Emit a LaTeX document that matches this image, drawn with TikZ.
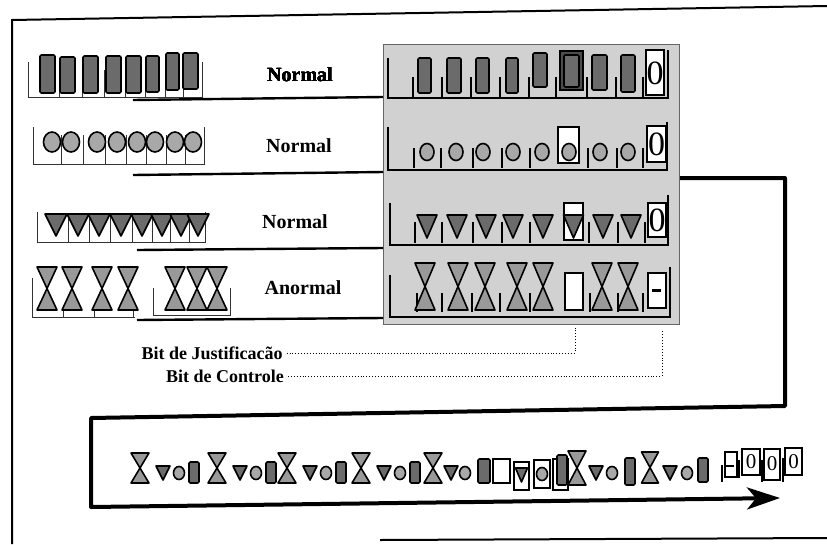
\documentclass[tikz,border=0pt]{standalone}
\usepackage{fontspec}
\setmainfont{Liberation Serif}
\usetikzlibrary{arrows.meta}
\definecolor{panelgray}{gray}{0.82}
\definecolor{rectfill}{gray}{0.42}
\definecolor{trifill}{gray}{0.42}
\definecolor{circfill}{gray}{0.66}
\definecolor{hgfill}{gray}{0.6}
\newcommand\symrect[4]{\draw[symb,fill=rectfill,rounded corners=1.2pt] ({#1},{#2}) rectangle ({#3},{#4});}
\newcommand\symtri[4]{\draw[symb,fill=trifill] ({#1-#3},{#2}) -- ({#1+#3},{#2}) -- ({#1},{#4}) -- cycle;}
\newcommand\symcirc[4]{\draw[symb,fill=circfill] ({#1},{#2}) ellipse [x radius=#3, y radius=#4];}
\newcommand\symhg[4]{%
  \draw[symb,fill=hgfill] ({#1-#3},{#2}) -- ({#1+#3},{#2}) -- ({#1},{(#2+#4)/2}) -- cycle;
  \draw[symb,fill=hgfill] ({#1-#3},{#4}) -- ({#1+#3},{#4}) -- ({#1},{(#2+#4)/2}) -- cycle;}
\newcommand\symgroup[1]{%
  \symhg{#1}{453}{9}{483}
  \symtri{#1+23}{466}{7}{480}
  \symcirc{#1+39}{473}{5.5}{6.5}
  \symrect{#1+49}{462}{#1+59}{483}}
\begin{document}
\begin{tikzpicture}[x=1pt,y=-1pt,
  symb/.style={draw=black,line width=1.6pt,line join=round},
  thinb/.style={draw=black!80,line width=0.6pt},
  pline/.style={line width=2.4pt,line join=miter},
  ptick/.style={line width=1.8pt},
  boxw/.style={draw=black,line width=1.8pt,fill=white},
  rowline/.style={line width=2.4pt},
  lab/.style={font=\bfseries\fontsize{20}{20}\selectfont,inner sep=0pt},
  blab/.style={font=\bfseries\fontsize{18}{18}\selectfont,inner sep=0pt},
  dots/.style={dotted,line width=0.9pt},
  big/.style={line width=4pt,line join=round},
  frame/.style={line width=2pt},
  zero/.style={font=\fontsize{34}{34}\selectfont,inner sep=0pt},
  zsmall/.style={font=\fontsize{21}{21}\selectfont,inner sep=0pt},
  panelbox/.style={fill=panelgray,draw=black!60,line width=0.7pt,minimum width=296pt,minimum height=280pt,inner sep=0pt}]
\useasboundingbox (0,0) rectangle (827,544);
% outer frame
\draw[frame] (827,6) -- (12,20) -- (12,544);
\draw[frame] (380,540) -- (827,538);
% panel
\node[panelbox] (panel) at (531,184) {};
% ---------- left rows ----------
% row 1: rectangles
\draw[thinb] (28,62) -- (28,97) -- (202,97) -- (202,62);
\foreach \x in {59,82,104,125,145,165,183} \draw[thinb] (\x,70) -- (\x,97);
\symrect{40}{55}{55}{93}
\symrect{60}{57}{75}{93}
\symrect{83}{56}{98}{93}
\symrect{106}{56}{121}{93}
\symrect{126}{56}{141}{93}
\symrect{146}{56}{159}{92}
\symrect{166}{53}{179}{90}
\symrect{183}{53}{198}{89}
% row 2: circles
\draw[thinb] (33,127) -- (33,164) -- (204,164) -- (204,127);
\foreach \x in {61,83,105,126,146,166,185} \draw[thinb] (\x,135) -- (\x,164);
\foreach \x in {52,71,97,117,137,155,175,193} \symcirc{\x}{142}{8.5}{10}
% row 3: triangles
\draw[thinb] (37,212) -- (37,242) -- (205,242) -- (205,212);
\foreach \x in {68,89,110,132,152,170,189} \draw[thinb] (\x,214) -- (\x,242);
\foreach \x in {56,78,99,121,142,162,181,198} \symtri{\x}{214}{11}{236}
% row 4: hourglasses
\draw[thinb] (32,278) -- (32,317) -- (135,317);
\foreach \x in {63,94,133} \draw[thinb] (\x,305) -- (\x,317);
\draw[thinb] (153,288) -- (153,315) -- (230,315) -- (230,288);
\foreach \x in {47,72,102,128,175,197,217} \symhg{\x}{267}{10}{310}
% labels
\node[lab] (n1) at (300,75) {Normal};
\node[lab] (n2) at (299,146) {Normal};
\node[lab] (n3) at (295,222) {Normal};
\node[lab] (n4) at (303,288) {Anormal};
% row connectors
\coordinate (a1) at (133,100); \coordinate (b1) at (383,97);
\coordinate (a2) at (133,175); \coordinate (b2) at (383,172);
\coordinate (a3) at (137,250); \coordinate (b3) at (383,248);
\coordinate (a4) at (137,320); \coordinate (b4) at (383,318);
\draw[rowline] (a1) -- (b1);
\draw[rowline] (a2) -- (b2);
\draw[rowline] (a3) -- (b3);
\draw[rowline] (a4) -- (b4);
% ---------- panel rows ----------
% row 1
\draw[pline] (388,58) -- (388,98) -- (668,98) -- (668,50);
\foreach \x in {413,442,471,500,529,556,587,616,643} \draw[ptick] (\x,77) -- (\x,98);
\symrect{418}{58}{431}{93}
\symrect{447}{58}{461}{93}
\symrect{476}{58}{489}{93}
\symrect{506}{58}{518}{93}
\symrect{533}{53}{547}{87}
\draw[boxw,fill=black!70] (560,51) rectangle (583,90);
\symrect{564}{55}{579}{87}
\symrect{592}{55}{607}{90}
\symrect{621}{55}{635}{92}
\draw[boxw] (646,50) rectangle (664,95);
\node[zero] at (655,73) {0};
% row 2
\draw[pline] (388,127) -- (388,170) -- (667,170) -- (667,122);
\foreach \x in {414,441,473,502,530,588,617,643} \draw[ptick] (\x,148) -- (\x,168);
\draw[boxw] (558,127) rectangle (579,163);
\foreach \x in {427,456,483,513,542,569,600,628} \symcirc{\x}{152}{7}{8.5}
\draw[boxw] (647,126) rectangle (666,162);
\node[zero] at (656.5,144) {0};
% row 3
\draw[pline] (390,203) -- (390,245) -- (668,245) -- (668,195);
\foreach \x in {415,442,473,502,530,589,618,645} \draw[ptick] (\x,222) -- (\x,243);
\draw[boxw] (564,203) rectangle (583,240);
\foreach \x in {427,457,486,513,543,573.5,603,631} \symtri{\x}{215}{10}{238}
\draw[boxw] (648,203) rectangle (666,237);
\node[zero] at (657,220) {0};
% row 4
\draw[pline] (390,275) -- (390,317) -- (670,317) -- (670,267);
\foreach \x in {417,442,472,500,530,590,618,643} \draw[ptick] (\x,293) -- (\x,312);
\draw[boxw] (565,273) rectangle (583,310);
\foreach \x in {425,458,485,517,543,602,628} \symhg{\x}{263}{10}{310}
\draw[boxw] (648,273) rectangle (666,308);
\draw[line width=3pt] (652,290) -- (661,290);
% ---------- bit labels ----------
\node[blab] (bj) at (212,353) {Bit de Justificacão};
\node[blab] (bc) at (225,376) {Bit de Controle};
\coordinate (jt) at (575,328);
\coordinate (ct) at (662,330);
\draw[dots] ([xshift=4pt]bj.east) -| (jt);
\draw[dots] ([xshift=4pt]bc.east) -| (ct);
% ---------- big connector ----------
\coordinate (c0) at (680,178);
\coordinate (c1) at (785,178);
\coordinate (c2) at (785,406);
\coordinate (c3) at (91,418);
\coordinate (c4) at (91,507);
\coordinate (c5) at (780,498);
\draw[big,-{Stealth[length=33pt,width=22pt,inset=9pt]}] (c0) -- (c1) -- (c2) -- (c3) -- (c4) -- (c5);
% ---------- bottom sequence ----------
\symgroup{140}
\symgroup{217}
\symgroup{287}
\symgroup{361}
\symhg{433}{453}{9}{483}
\symtri{451}{466}{7}{480}
\symcirc{465}{473}{5.5}{6.5}
\symrect{478}{459}{490}{483}
\draw[boxw,line width=1.5pt] (493,459) rectangle (510,483);
\draw[boxw,line width=1.5pt] (514,462) rectangle (529,490);
\symtri{521.5}{468}{6}{482}
\draw[boxw,line width=1.5pt] (534,460) rectangle (550,488);
\symcirc{542}{474}{5.5}{6.5}
\draw[boxw,line width=1.5pt] (553,459) rectangle (568,490);
\symrect{557}{455}{567}{485}
\symhg{577}{451}{9}{485}
\symtri{596}{466}{7}{480}
\symcirc{612}{473}{5.5}{6.5}
\symrect{625}{458}{635}{485}
\symhg{650}{452}{8.5}{483}
\symtri{670}{466}{7}{480}
\symcirc{687}{473}{5.5}{6.5}
\symrect{698}{458}{708}{482}
% end boxes
\draw[line width=1.8pt] (722,465) -- (722,482);
\draw[boxw,line width=1.6pt] (725,452) rectangle (737,477);
\draw[line width=2pt] (726,466) -- (734,466);
\draw[line width=1.8pt] (739,460) -- (739,478);
\draw[boxw,line width=1.6pt] (742,449) rectangle (760,475);
\node[zsmall] at (751,462) {0};
\draw[line width=1.8pt] (762,460) -- (762,482);
\draw[boxw,line width=1.6pt] (764,449) rectangle (780,480);
\node[zsmall] at (772,464) {0};
\draw[line width=1.8pt] (783,458) -- (783,482);
\draw[boxw,line width=1.6pt] (785,448) rectangle (802,475);
\node[zsmall] at (793.5,461.5) {0};
\end{tikzpicture}
\end{document}
